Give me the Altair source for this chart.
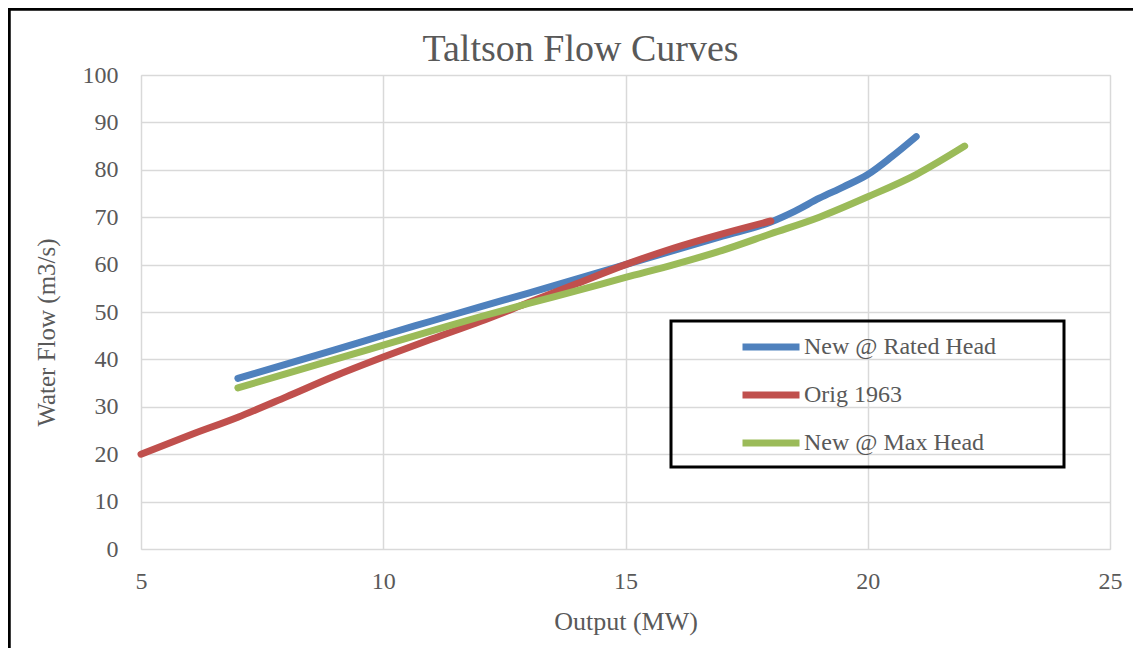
import altair as alt
import pandas as pd

# ---- data ----
rated_mw = [7, 8, 9, 10, 11, 12, 13, 14, 15, 16, 17, 18, 18.5, 19, 19.5, 20, 20.5, 21]
rated_flow = [36, 39, 42, 45.1, 48.1, 51.1, 54, 57, 60, 63, 66, 69, 71.3, 74, 76.4, 79, 82.8, 87]

orig_mw = [5, 6, 7, 8, 9, 10, 11, 12, 13, 14, 15, 16, 17, 18]
orig_flow = [20, 24, 27.8, 32.1, 36.5, 40.5, 44.3, 48.0, 52.0, 56.0, 60.0, 63.5, 66.5, 69.2]

maxh_mw = [7, 8, 9, 10, 11, 12, 13, 14, 15, 16, 17, 18, 19, 20, 21, 22]
maxh_flow = [34, 37, 40, 43, 46, 49, 51.8, 54.5, 57.3, 60, 63, 66.5, 70, 74.3, 79, 85]

series_names = ["New @ Rated Head", "Orig 1963", "New @ Max Head"]
series_colors = ["#4F81BD", "#C0504D", "#9BBB59"]
x_ticks = [5, 10, 15, 20, 25]
y_ticks = [0, 10, 20, 30, 40, 50, 60, 70, 80, 90, 100]

rows = []
for name, xs, ys in zip(series_names, [rated_mw, orig_mw, maxh_mw],
                        [rated_flow, orig_flow, maxh_flow]):
    for i, (a, b) in enumerate(zip(xs, ys)):
        rows.append({"series": name, "mw": a, "flow": b, "i": i})
df = pd.DataFrame(rows)

FONT = "Liberation Serif"
GREY = "#595959"

W, H = 969, 474

color = alt.Color(
    "series:N",
    scale=alt.Scale(domain=series_names, range=series_colors),
    legend=alt.Legend(
        title=None,
        orient="none",
        legendX=598,
        legendY=259,
        padding=0,
        symbolType="stroke",
        symbolSize=3249,
        symbolStrokeWidth=7,
        labelOffset=1,
        rowPadding=22,
        clipHeight=26,
        labelFont=FONT,
        labelFontSize=24,
        labelColor=GREY,
        labelLimit=400,
    ),
)

x_enc = alt.X(
    "mw:Q",
    scale=alt.Scale(domain=[5, 25], nice=False, zero=False),
    axis=alt.Axis(
        title="Output (MW)",
        values=x_ticks,
        grid=True,
        gridColor="#d9d9d9",
        gridWidth=1.5,
        domain=False,
        ticks=False,
        tickSize=0,
        labelFlush=False,
        labelPadding=20,
        labelFont=FONT,
        labelFontSize=24,
        labelColor=GREY,
        titleFont=FONT,
        titleFontSize=26,
        titleFontWeight="normal",
        titleColor=GREY,
        titleX=W / 2,
        titleY=72,
        titleBaseline="middle",
        titleAlign="center",
    ),
)
y_enc = alt.Y(
    "flow:Q",
    scale=alt.Scale(domain=[0, 100], nice=False),
    axis=alt.Axis(
        title="Water Flow (m3/s)",
        values=y_ticks,
        grid=True,
        gridColor="#d9d9d9",
        gridWidth=1.5,
        domain=False,
        ticks=False,
        tickSize=0,
        labelFlush=False,
        labelPadding=23,
        labelFont=FONT,
        labelFontSize=24,
        labelColor=GREY,
        titleFont=FONT,
        titleFontSize=25,
        titleFontWeight="normal",
        titleColor=GREY,
        titleX=-95,
        titleY=257,
        titleAngle=-90,
        titleBaseline="middle",
        titleAlign="center",
    ),
)

layers = []
for name in series_names:
    layers.append(
        alt.Chart(df)
        .transform_filter(alt.datum.series == name)
        .mark_line(strokeWidth=7, strokeCap="round", interpolate="monotone")
        .encode(x=x_enc, y=y_enc, color=color, order="i:Q")
    )

# decorations: outer frame and legend box
deco = pd.DataFrame({"k": [0]})
frame = alt.Chart(deco).mark_rect(filled=False, stroke="black", strokeWidth=3.5).encode(
    x=alt.value(-132), y=alt.value(-66), x2=alt.value(2000), y2=alt.value(2000)
)
legend_box = alt.Chart(deco).mark_rect(filled=False, stroke="black", strokeWidth=3).encode(
    x=alt.value(530), y=alt.value(246), x2=alt.value(923), y2=alt.value(392)
)

chart = (
    alt.layer(*layers, legend_box, frame)
    .properties(
        width=W,
        height=H,
        title=alt.TitleParams(
            "Taltson Flow Curves",
            font=FONT,
            fontSize=38,
            fontWeight="normal",
            color=GREY,
            anchor="middle",
            frame="group",
            dx=-45,
            dy=104,
            baseline="alphabetic",
            offset=12,
        ),
        autosize=alt.AutoSizeParams(type="none"),
        padding={"left": 133, "top": 67, "right": 23, "bottom": 99},
    )
    .configure_view(stroke=None)
    .configure(background="white")
)

chart.save("out.html", embed_options={"renderer": "svg", "actions": False})
